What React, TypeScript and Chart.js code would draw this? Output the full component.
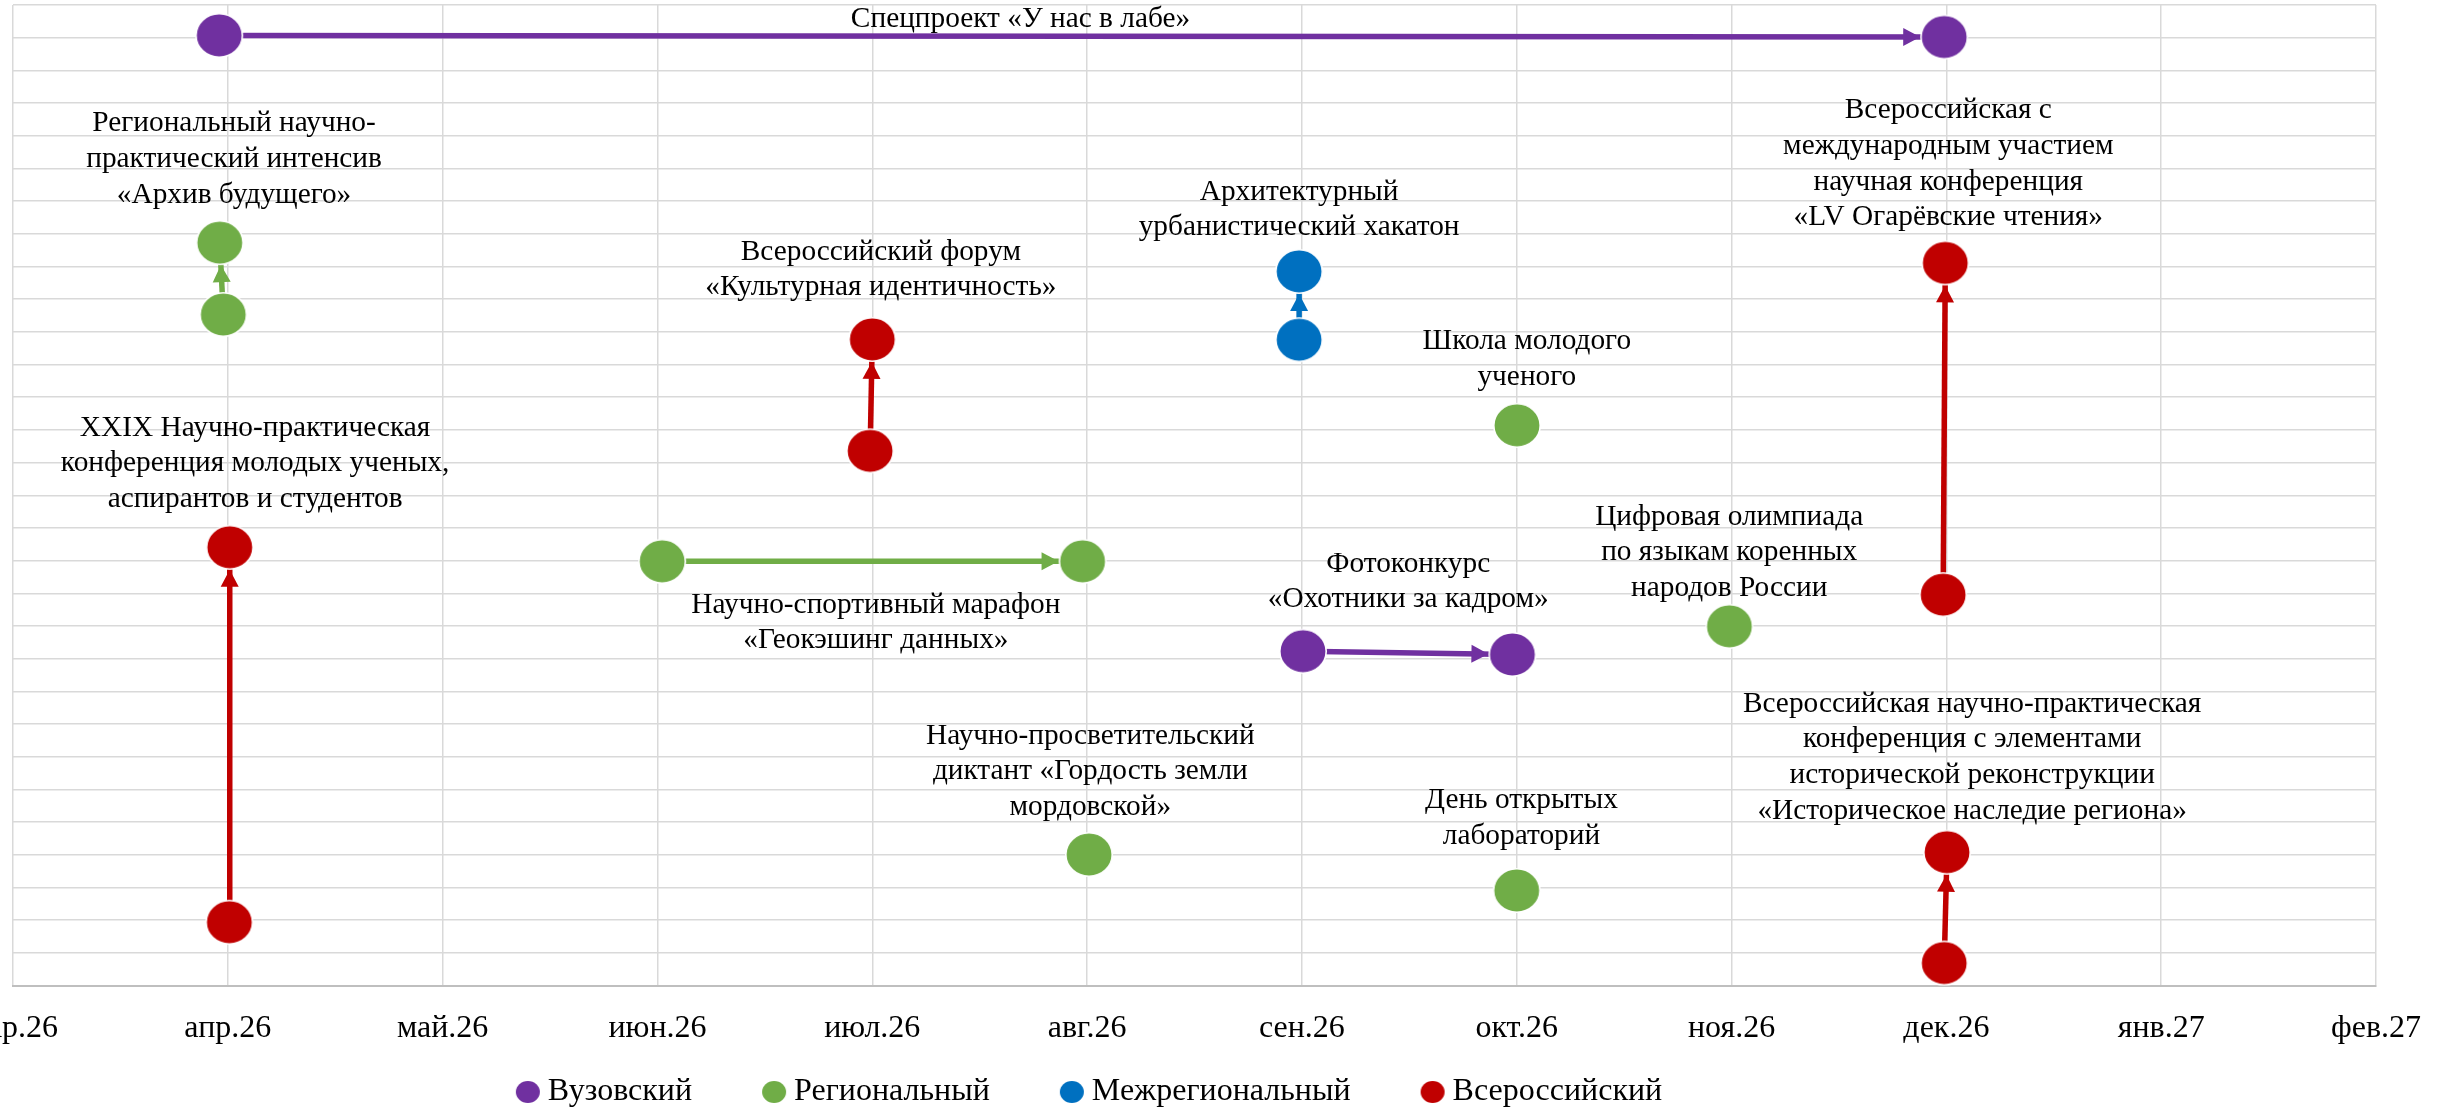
import React, { useEffect, useRef } from 'react';
import { Chart, registerables } from 'chart.js';

Chart.register(...registerables);

const FONT = "'Liberation Serif', 'Times New Roman', Times, serif";

// ---- data ----
const monthLabels = ['мар.26', 'апр.26', 'май.26', 'июн.26', 'июл.26', 'авг.26', 'сен.26', 'окт.26', 'ноя.26', 'дек.26', 'янв.27', 'фев.27'];
const levelTicks = [0, 30];

const categories = ['Вузовский', 'Региональный', 'Межрегиональный', 'Всероссийский'];
const categoryColors = ['#7030A0', '#70AD47', '#0070C0', '#C00000'];

const eventLabels: string[][] = [
  ['Спецпроект «У нас в лабе»'],
  ['Региональный научно-', 'практический интенсив', '«Архив будущего»'],
  ['XXIX Научно-практическая', 'конференция молодых ученых,', 'аспирантов и студентов'],
  ['Научно-спортивный марафон', '«Геокэшинг данных»'],
  ['Всероссийский форум', '«Культурная идентичность»'],
  ['Научно-просветительский', 'диктант «Гордость земли', 'мордовской»'],
  ['Архитектурный', 'урбанистический хакатон'],
  ['Фотоконкурс', '«Охотники за кадром»'],
  ['Школа молодого', 'ученого'],
  ['День открытых', 'лабораторий'],
  ['Цифровая олимпиада', 'по языкам коренных', 'народов России'],
  ['Всероссийская с', 'международным участием', 'научная конференция', '«LV Огарёвские чтения»'],
  ['Всероссийская научно-практическая', 'конференция с элементами', 'исторической реконструкции', '«Историческое наследие региона»'],
];
const eventCategory = [0, 1, 3, 1, 3, 1, 2, 0, 1, 1, 1, 3, 3];
const startMonth = [0.96, 0.979, 1.007, 3.022, 3.99, 5.009, 5.987, 6.005, 7.001, 7.0, 7.99, 8.985, 8.99];
const startLevel = [29.07, 20.53, 1.94, 12.98, 16.36, 4.01, 19.76, 10.23, 17.14, 2.91, 10.99, 11.96, 0.69];
const endMonth: (number | null)[] = [8.99, 0.9625, 1.009, 4.979, 4.0, null, 5.987, 6.98, null, null, null, 8.995, 9.003];
const endLevel: (number | null)[] = [29.02, 22.73, 13.41, 12.98, 19.77, null, 21.85, 10.13, null, null, null, 22.11, 4.08];
const labelMonth = [4.69, 1.029, 1.127, 4.017, 4.04, 5.015, 5.987, 6.495, 7.047, 7.022, 7.989, 9.009, 9.12];
const labelLevel = [29.55, 25.28, 15.97, 11.1, 21.9, 6.55, 23.73, 12.35, 19.16, 5.11, 13.25, 25.13, 6.98];

// ---- helpers ----
function makeEllipse(color: string, w: number, h: number, border: number): HTMLCanvasElement {
  const c = document.createElement('canvas');
  c.width = Math.ceil(w + border * 2 + 2);
  c.height = Math.ceil(h + border * 2 + 2);
  const ctx = c.getContext('2d')!;
  ctx.beginPath();
  ctx.ellipse(c.width / 2, c.height / 2, w / 2, h / 2, 0, 0, Math.PI * 2);
  ctx.fillStyle = color;
  ctx.fill();
  if (border > 0) {
    ctx.lineWidth = border;
    ctx.strokeStyle = '#ffffff';
    ctx.stroke();
  }
  return c;
}

const MARKER_RX = 24;
const MARKER_RY = 22.5;

const arrowPlugin = {
  id: 'arrowHeads',
  afterDatasetDraw(chart: any, args: any) {
    const ds = chart.data.datasets[args.index];
    if (!ds || !ds.isArrow) return;
    const pts = args.meta && args.meta.data;
    if (!pts || pts.length < 2) return;
    const sx = pts[0].x, sy = pts[0].y, ex = pts[1].x, ey = pts[1].y;
    const dx = ex - sx, dy = ey - sy;
    const len = Math.hypot(dx, dy);
    if (!(len > 1)) return;
    const ux = dx / len, uy = dy / len;
    const r = 1 / Math.sqrt((ux / MARKER_RX) ** 2 + (uy / MARKER_RY) ** 2);
    const tx = ex - ux * r, ty = ey - uy * r;
    const headLen = 17, headHalf = 9;
    const bx = tx - ux * headLen, by = ty - uy * headLen;
    const ctx = chart.ctx;
    ctx.save();
    ctx.fillStyle = ds.borderColor;
    ctx.beginPath();
    ctx.moveTo(tx, ty);
    ctx.lineTo(bx - uy * headHalf, by + ux * headHalf);
    ctx.lineTo(bx + uy * headHalf, by - ux * headHalf);
    ctx.closePath();
    ctx.fill();
    ctx.restore();
  },
};

const labelPlugin = {
  id: 'eventLabels',
  afterDatasetsDraw(chart: any) {
    const { ctx } = chart;
    const xs = chart.scales.x, ys = chart.scales.y;
    ctx.save();
    ctx.font = `29.33px ${FONT}`;
    ctx.fillStyle = '#000000';
    ctx.textAlign = 'center';
    ctx.textBaseline = 'middle';
    const lh = 35.6;
    eventLabels.forEach((lines, i) => {
      const cx = xs.getPixelForValue(labelMonth[i]);
      const cy = ys.getPixelForValue(labelLevel[i]);
      const y0 = cy - ((lines.length - 1) * lh) / 2;
      lines.forEach((t, k) => ctx.fillText(t, cx, y0 + k * lh));
    });
    ctx.restore();
  },
};

function makeLegendPlugin(markers: HTMLCanvasElement[]) {
  return {
    id: 'bottomLegend',
    afterDraw(chart: any) {
      const ctx = chart.ctx;
      ctx.save();
      ctx.font = `32px ${FONT}`;
      ctx.fillStyle = '#000000';
      ctx.textAlign = 'left';
      ctx.textBaseline = 'middle';
      const widths = categories.map((t) => ctx.measureText(t).width);
      const mW = 24, gapText = 8, gapItem = 70;
      const total = widths.reduce((s, w) => s + mW + gapText + w, 0) + gapItem * (categories.length - 1);
      const centerX = 1089;
      const cy = 1092;
      let xx = centerX - total / 2;
      categories.forEach((t, i) => {
        const m = markers[i];
        ctx.drawImage(m, xx + mW / 2 - m.width / 2, cy - m.height / 2);
        ctx.fillText(t, xx + mW + gapText, cy);
        xx += mW + gapText + widths[i] + gapItem;
      });
      ctx.restore();
    },
  };
}

export default function App() {
  const ref = useRef<HTMLCanvasElement>(null);

  useEffect(() => {
    const canvas = ref.current;
    if (!canvas) return;
    const markers = categoryColors.map((c) => makeEllipse(c, 46.4, 43.4, 1.6));
    const legendMarkers = categoryColors.map((c) => makeEllipse(c, 24, 22, 0));

    const arrowDatasets: any[] = [];
    eventLabels.forEach((_, i) => {
      const em = endMonth[i];
      const el = endLevel[i];
      if (em == null || el == null) return;
      const color = categoryColors[eventCategory[i]];
      arrowDatasets.push({
        type: 'line',
        label: `arrow-${i}`,
        data: [
          { x: startMonth[i], y: startLevel[i] },
          { x: em, y: el },
        ],
        borderColor: color,
        backgroundColor: color,
        borderWidth: 5.5,
        pointRadius: 0,
        pointHoverRadius: 0,
        fill: false,
        tension: 0,
        order: 2,
        clip: false,
        isArrow: true,
      });
    });

    const pointDatasets = categories.map((name, c) => {
      const data: { x: number; y: number }[] = [];
      eventLabels.forEach((_, i) => {
        if (eventCategory[i] !== c) return;
        data.push({ x: startMonth[i], y: startLevel[i] });
        const em = endMonth[i];
        const el = endLevel[i];
        if (em != null && el != null) data.push({ x: em, y: el });
      });
      return {
        type: 'scatter',
        label: name,
        data,
        pointStyle: markers[c],
        pointRadius: 23,
        pointHoverRadius: 23,
        backgroundColor: categoryColors[c],
        borderColor: '#ffffff',
        borderWidth: 0,
        order: 1,
        clip: false,
      };
    });

    const chart: any = new Chart(canvas, {
      type: 'scatter',
      data: { datasets: [...arrowDatasets, ...pointDatasets] as any },
      options: {
        responsive: false,
        animation: false,
        devicePixelRatio: 1,
        events: [],
        layout: { autoPadding: false, padding: { left: 13, right: 67, top: 5, bottom: 39 } },
        plugins: {
          legend: { display: false },
          tooltip: { enabled: false },
          title: { display: false },
        },
        scales: {
          x: {
            type: 'linear',
            min: 0,
            max: monthLabels.length - 1,
            afterFit: (s: any) => {
              s.paddingLeft = 0;
              s.paddingRight = 0;
            },
            ticks: {
              stepSize: 1,
              maxTicksLimit: 100,
              autoSkip: false,
              maxRotation: 0,
              minRotation: 0,
              padding: 24,
              color: '#000000',
              font: { family: FONT, size: 32 },
              callback: (v: any) => monthLabels[Math.round(Number(v))] ?? '',
            },
            grid: { color: '#d9d9d9', lineWidth: 1.5, drawTicks: false },
            border: { display: true, color: '#bfbfbf', width: 2 },
          },
          y: {
            type: 'linear',
            min: levelTicks[0],
            max: levelTicks[1],
            ticks: { display: false, stepSize: 1, maxTicksLimit: 100 },
            grid: { color: '#d9d9d9', lineWidth: 1.5, drawTicks: false },
            border: { display: false },
          },
        },
      } as any,
      plugins: [arrowPlugin, labelPlugin, makeLegendPlugin(legendMarkers)],
    });

    return () => chart.destroy();
  }, []);

  return (
    <div style={{ position: 'fixed', left: 0, top: 0, width: 2443, height: 1111, background: '#ffffff' }}>
      <canvas ref={ref} width={2443} height={1111} style={{ display: 'block', width: 2443, height: 1111 }} />
    </div>
  );
}
